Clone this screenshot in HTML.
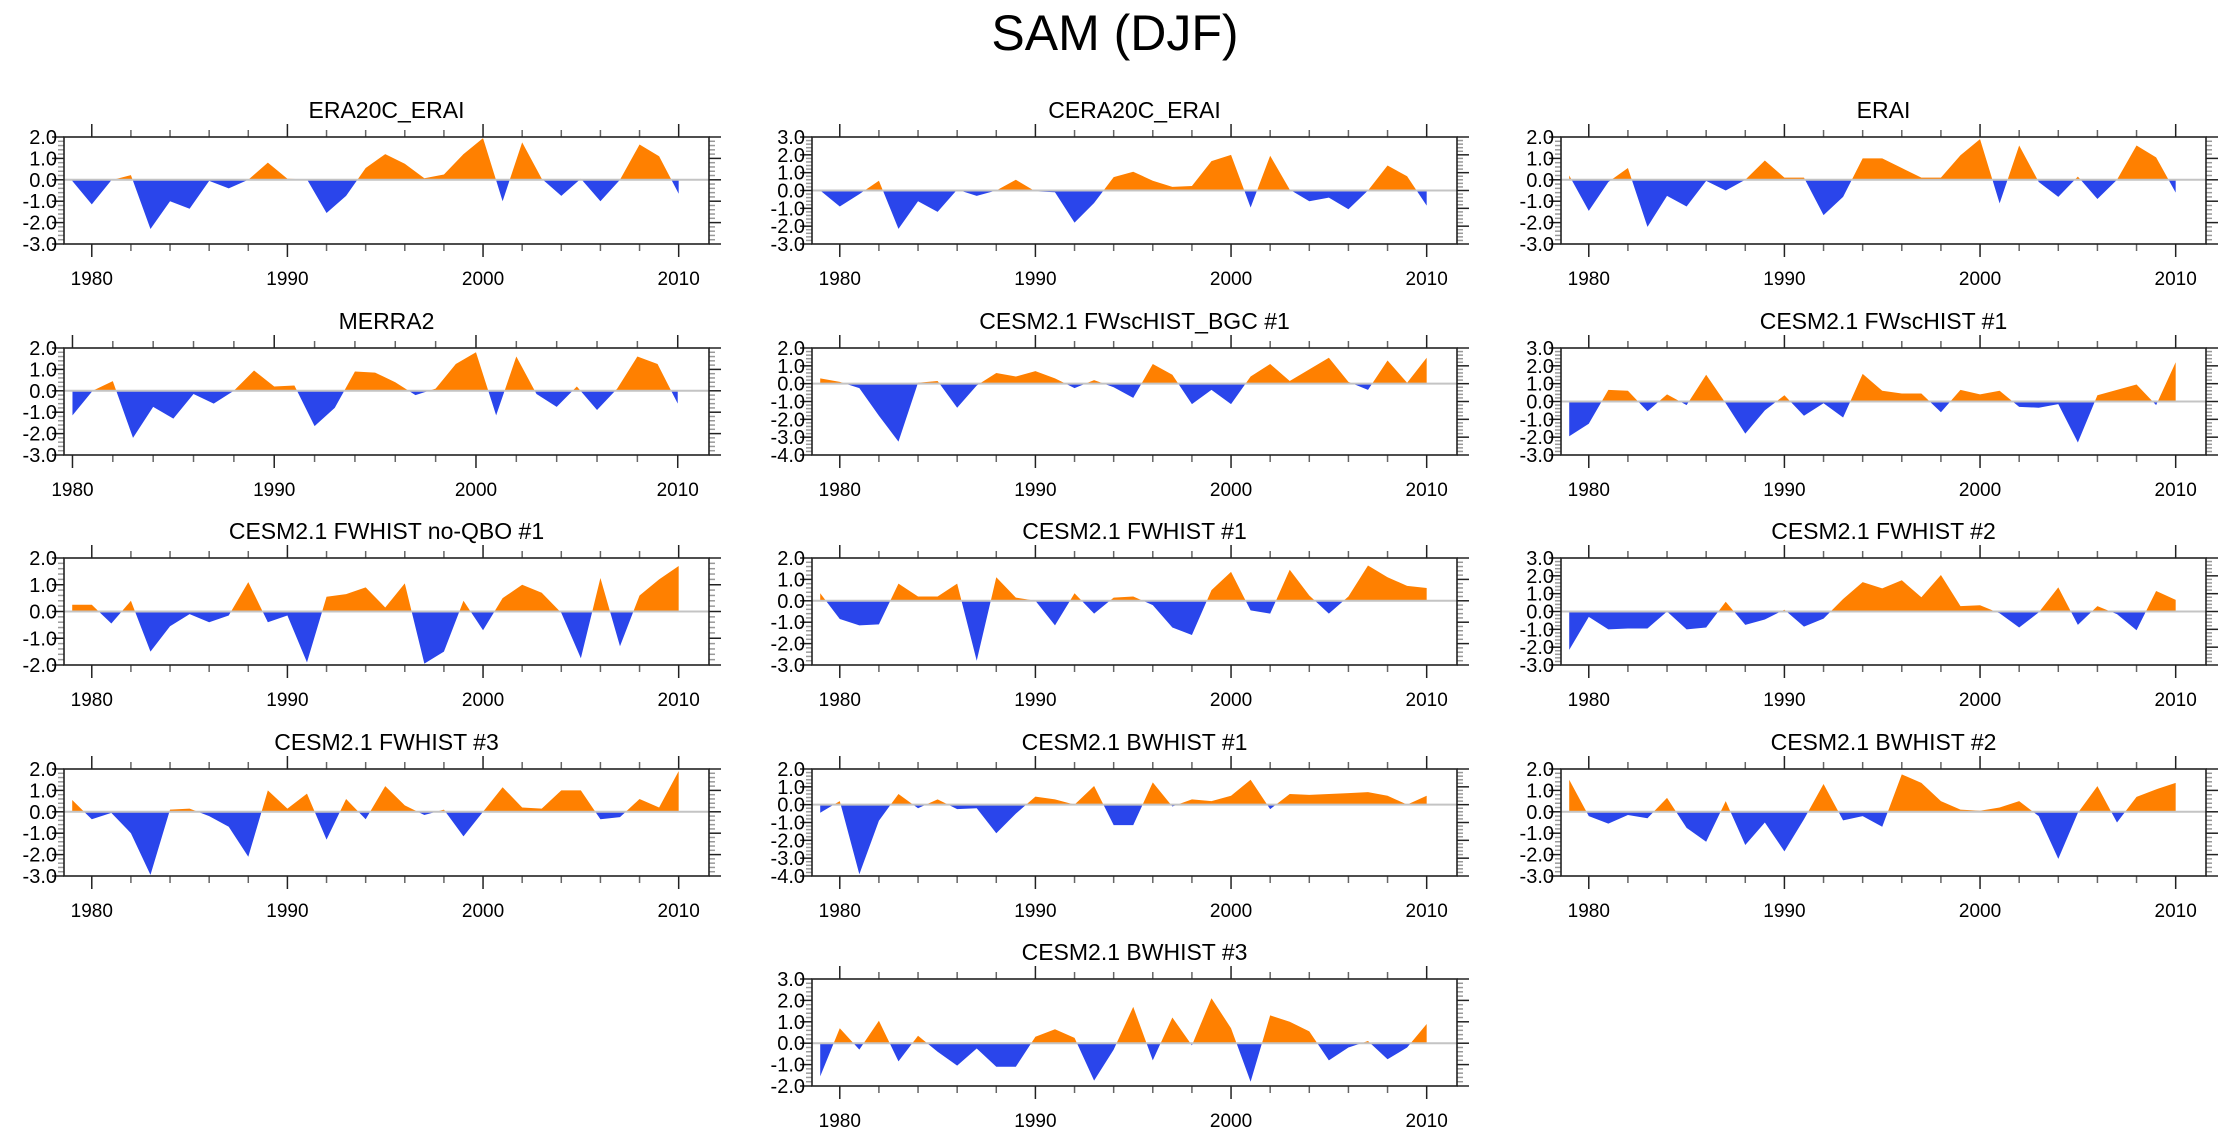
<!DOCTYPE html>
<html><head><meta charset="utf-8"><title>SAM (DJF)</title>
<style>
html,body{margin:0;padding:0;background:#fff;}
svg{display:block;font-family:"Liberation Sans",Arial,sans-serif;}
</style></head>
<body>
<svg id="chart" xmlns="http://www.w3.org/2000/svg" width="2230" height="1133" viewBox="0 0 2230 1133">
<rect width="2230" height="1133" fill="#fff"/>
<text x="1115" y="50" font-size="50" text-anchor="middle" fill="#000">SAM (DJF)</text>
</svg>
<script>
// ---- data (SAM index anomalies, DJF) ----
const titles = ["ERA20C_ERAI","CERA20C_ERAI","ERAI","MERRA2","CESM2.1 FWscHIST_BGC #1","CESM2.1 FWscHIST #1","CESM2.1 FWHIST no-QBO #1","CESM2.1 FWHIST #1","CESM2.1 FWHIST #2","CESM2.1 FWHIST #3","CESM2.1 BWHIST #1","CESM2.1 BWHIST #2","CESM2.1 BWHIST #3"];
const startYears = [1979,1979,1979,1980,1979,1979,1979,1979,1979,1979,1979,1979,1979];
const yMins = [-3,-3,-3,-3,-4,-3,-2,-3,-3,-3,-4,-3,-2];
const yMaxs = [2,3,2,2,2,3,2,2,3,2,2,2,3];
const xTickLabels = ["1980","1990","2000","2010"];
const s01 = [-0.05,-1.15,-0.02,0.22,-2.3,-1.0,-1.35,-0.05,-0.4,0.0,0.8,0.05,0.02,-1.55,-0.75,0.55,1.2,0.75,0.07,0.25,1.2,1.95,-1.0,1.75,0.05,-0.75,0.05,-1.0,0.0,1.65,1.1,-0.65];
const s02 = [0.0,-0.9,-0.2,0.55,-2.15,-0.6,-1.2,0.05,-0.3,0.0,0.6,-0.05,-0.1,-1.8,-0.7,0.75,1.05,0.55,0.2,0.25,1.65,2.0,-0.95,1.95,0.05,-0.6,-0.4,-1.05,0.0,1.4,0.8,-0.85];
const s03 = [0.2,-1.45,-0.1,0.55,-2.2,-0.75,-1.25,-0.05,-0.5,0.0,0.9,0.1,0.1,-1.65,-0.8,1.0,1.0,0.55,0.1,0.1,1.15,1.9,-1.1,1.6,-0.1,-0.8,0.15,-0.9,0.0,1.6,1.05,-0.6];
const s04 = [-1.15,0.0,0.45,-2.2,-0.75,-1.3,-0.15,-0.6,0.0,0.95,0.2,0.25,-1.65,-0.8,0.9,0.85,0.4,-0.2,0.1,1.25,1.8,-1.15,1.6,-0.15,-0.75,0.2,-0.9,0.1,1.6,1.25,-0.6];
const s05 = [0.3,0.1,-0.25,-1.8,-3.25,0.05,0.15,-1.35,-0.1,0.6,0.4,0.7,0.3,-0.25,0.2,-0.2,-0.8,1.1,0.5,-1.15,-0.35,-1.15,0.4,1.1,0.15,0.8,1.45,0.1,-0.35,1.3,0.05,1.45];
const s06 = [-1.95,-1.25,0.65,0.6,-0.55,0.4,-0.2,1.5,-0.1,-1.8,-0.5,0.35,-0.8,-0.1,-0.9,1.55,0.6,0.45,0.45,-0.6,0.65,0.4,0.6,-0.3,-0.35,-0.15,-2.3,0.35,0.65,0.95,-0.2,2.2];
const s07 = [0.25,0.25,-0.45,0.4,-1.5,-0.55,-0.1,-0.4,-0.15,1.1,-0.4,-0.15,-1.9,0.55,0.65,0.9,0.15,1.05,-1.95,-1.5,0.4,-0.7,0.5,1.0,0.7,-0.05,-1.75,1.25,-1.3,0.6,1.2,1.7];
const s08 = [0.35,-0.85,-1.15,-1.1,0.8,0.2,0.2,0.8,-2.8,1.1,0.15,0.0,-1.15,0.35,-0.6,0.15,0.2,-0.2,-1.25,-1.6,0.5,1.35,-0.45,-0.6,1.45,0.25,-0.6,0.2,1.65,1.1,0.7,0.6];
const s09 = [-2.15,-0.3,-1.0,-0.95,-0.95,0.0,-1.0,-0.9,0.55,-0.75,-0.45,0.1,-0.85,-0.4,0.7,1.65,1.3,1.75,0.8,2.05,0.3,0.35,-0.1,-0.9,-0.05,1.35,-0.75,0.3,-0.15,-1.05,1.15,0.65];
const s10 = [0.55,-0.35,-0.05,-1.0,-2.95,0.1,0.15,-0.2,-0.7,-2.1,1.0,0.15,0.85,-1.3,0.6,-0.35,1.2,0.3,-0.15,0.1,-1.15,0.0,1.15,0.2,0.15,1.0,1.0,-0.35,-0.25,0.6,0.2,1.9];
const s11 = [-0.45,0.2,-3.9,-0.9,0.6,-0.2,0.3,-0.25,-0.2,-1.6,-0.5,0.45,0.3,0.0,1.05,-1.15,-1.15,1.25,-0.1,0.3,0.2,0.5,1.4,-0.25,0.6,0.55,0.6,0.65,0.7,0.5,0.0,0.5];
const s12 = [1.5,-0.2,-0.55,-0.15,-0.3,0.65,-0.75,-1.4,0.5,-1.55,-0.5,-1.85,-0.35,1.3,-0.4,-0.2,-0.7,1.75,1.35,0.5,0.1,0.05,0.2,0.5,-0.2,-2.2,-0.05,1.2,-0.5,0.7,1.05,1.35];
const s13 = [-1.55,0.7,-0.3,1.05,-0.85,0.35,-0.4,-1.05,-0.25,-1.1,-1.1,0.3,0.65,0.25,-1.75,-0.3,1.7,-0.8,1.2,-0.1,2.1,0.7,-1.8,1.3,1.0,0.55,-0.8,-0.2,0.1,-0.75,-0.2,0.9];
const series = [s01,s02,s03,s04,s05,s06,s07,s08,s09,s10,s11,s12,s13];

// ---- layout ----
const NS = "http://www.w3.org/2000/svg";
const svg = document.getElementById("chart");
const colLeft = [64, 812, 1561];
const rowTop = [137, 348, 558, 769, 979];
const PW = 645, PH = 107;
function mk(tag, attrs, parent) {
  const e = document.createElementNS(NS, tag);
  for (const k in attrs) e.setAttribute(k, attrs[k]);
  (parent || svg).appendChild(e);
  return e;
}

series.forEach((vals, i) => {
  const col = i === 12 ? 1 : i % 3;
  const row = Math.floor(i / 3);
  const L = colLeft[col], T = rowTop[row], R = L + PW, B = T + PH;
  const x0 = startYears[i] - 0.42, x1 = 2011.55;
  const yMin = yMins[i], yMax = yMaxs[i];
  const xs = v => L + (v - x0) / (x1 - x0) * PW;
  const ys = v => B - (v - yMin) / (yMax - yMin) * PH;

  const g = mk("g", {});
  
  

  const t = mk("text", {x: (L + R) / 2, y: T - 19, "font-size": 23, "text-anchor": "middle", fill: "#000"}, g);
  t.textContent = titles[i];
  
  

  const y0 = ys(0);
  const cid = "c" + i;
  const defs = mk("defs", {}, g);
  const cpUp = mk("clipPath", {id: cid + "u"}, defs);
  mk("rect", {x: L, y: T, width: PW, height: y0 - T}, cpUp);
  const cpDn = mk("clipPath", {id: cid + "d"}, defs);
  mk("rect", {x: L, y: y0, width: PW, height: B - y0}, cpDn);
  let d = "M" + xs(startYears[i]) + "," + y0;
  vals.forEach((v, k) => { d += " L" + xs(startYears[i] + k).toFixed(2) + "," + ys(v).toFixed(2); });
  d += " L" + xs(startYears[i] + vals.length - 1) + "," + y0 + " Z";
  const pos = mk("path", {d: d, fill: "#ff8000", "clip-path": "url(#" + cid + "u)"}, g);
  
  
  const neg = mk("path", {d: d, fill: "#2a45eb", "clip-path": "url(#" + cid + "d)"}, g);
  
  

  const zl = mk("line", {x1: L, x2: R, y1: y0, y2: y0, stroke: "#c4c4c4", "stroke-width": 2}, g);
  
  

  for (let v = yMin; v <= yMax + 1e-9; v += 0.2) {
    const yy = ys(v);
    const major = Math.abs(v - Math.round(v)) < 1e-6;
    const len = major ? 12 : 6;
    const col2 = major ? "#222" : "#999";
    mk("line", {x1: L - len, x2: L, y1: yy, y2: yy, stroke: col2, "stroke-width": 1.5}, g);
    mk("line", {x1: R, x2: R + len, y1: yy, y2: yy, stroke: col2, "stroke-width": 1.5}, g);
    if (major) {
      const lb = mk("text", {x: L - 7, y: yy + 7, "font-size": 20, "text-anchor": "end", fill: "#000"}, g);
      lb.textContent = Math.round(v).toFixed(1);
      
      
    }
  }
  for (let yr = 1980; yr <= 2010; yr += 2) {
    const xx = xs(yr);
    const major = yr % 10 === 0;
    const len = major ? 13 : 7;
    mk("line", {x1: xx, x2: xx, y1: T - len, y2: T, stroke: major ? "#222" : "#666", "stroke-width": 1.5}, g);
    mk("line", {x1: xx, x2: xx, y1: B, y2: B + len, stroke: major ? "#222" : "#666", "stroke-width": 1.5}, g);
  }
  xTickLabels.forEach(s => {
    const lb = mk("text", {x: xs(+s), y: B + 41, "font-size": 19, "text-anchor": "middle", fill: "#000"}, g);
    lb.textContent = s;
    
    
  });
  const box = mk("rect", {x: L, y: T, width: PW, height: PH, fill: "none", stroke: "#222", "stroke-width": 1.6}, g);
  
  
});
</script>
</body></html>
